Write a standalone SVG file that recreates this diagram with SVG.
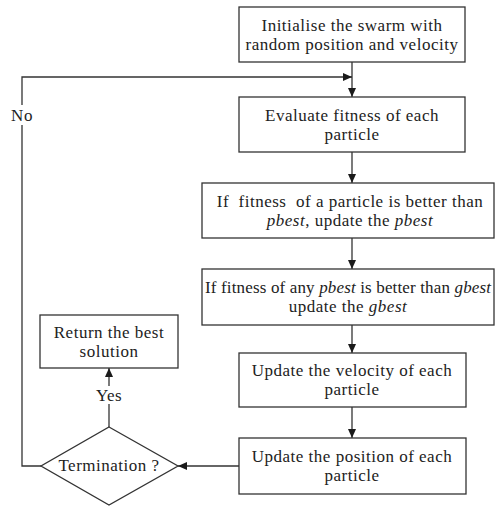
<svg xmlns="http://www.w3.org/2000/svg" width="495" height="506" viewBox="0 0 495 506">
<defs>
<marker id="ah" markerWidth="10" markerHeight="10" refX="9" refY="5" orient="auto" markerUnits="userSpaceOnUse">
<path d="M0,1 L9,5 L0,9 Z" fill="#1a1a1a"/>
</marker>
<style>
.box{fill:#fff;stroke:#333;stroke-width:1.3}
.t{font-family:"Liberation Serif","Times New Roman",serif;font-size:17px;letter-spacing:0.5px;fill:#222;text-anchor:middle}
.i{font-style:italic}
.c{fill:none;stroke:#333;stroke-width:1.3}
</style>
</defs>
<rect width="495" height="506" fill="#fff"/>
<g id="connectors">
<line class="c" x1="352" y1="62" x2="352" y2="97" marker-end="url(#ah)"/>
<polyline class="c" points="41,466 22,466 22,77 352,77" marker-end="url(#ah)"/>
<line class="c" x1="352" y1="152" x2="352" y2="183" marker-end="url(#ah)"/>
<line class="c" x1="352" y1="238" x2="352" y2="269" marker-end="url(#ah)"/>
<line class="c" x1="352" y1="325" x2="352" y2="353" marker-end="url(#ah)"/>
<line class="c" x1="352" y1="407" x2="352" y2="438" marker-end="url(#ah)"/>
<line class="c" x1="239" y1="466" x2="178" y2="466" marker-end="url(#ah)"/>
<line class="c" x1="109" y1="427" x2="109" y2="368" marker-end="url(#ah)"/>
<rect x="9" y="105" width="26" height="20" fill="#fff"/>
<text class="t" x="22" y="121">No</text>
<rect x="93" y="386" width="32" height="18" fill="#fff"/>
<text class="t" x="109" y="401">Yes</text>
</g>
<g id="init">
<rect class="box" x="239" y="7" width="226" height="55"/>
<text class="t" x="352" y="31">Initialise the swarm with</text>
<text class="t" x="352" y="50">random position and velocity</text>
</g>
<g id="evaluate">
<rect class="box" x="239" y="97" width="226" height="55"/>
<text class="t" x="352" y="121">Evaluate fitness of each</text>
<text class="t" x="352" y="140">particle</text>
</g>
<g id="pbest">
<rect class="box" x="202" y="183" width="292" height="55"/>
<text class="t" x="350" y="207" xml:space="preserve">If  fitness  of a particle is better than</text>
<text class="t" x="350" y="226"><tspan class="i">pbest</tspan>, update the <tspan class="i">pbest</tspan></text>
</g>
<g id="gbest">
<rect class="box" x="202" y="269" width="292" height="56"/>
<text class="t" x="348" y="293" style="letter-spacing:0" textLength="286" lengthAdjust="spacing">If fitness of any <tspan class="i">pbest</tspan> is better than <tspan class="i">gbest</tspan></text>
<text class="t" x="348" y="312">update the <tspan class="i">gbest</tspan></text>
</g>
<g id="velocity">
<rect class="box" x="239" y="353" width="227" height="54"/>
<text class="t" x="352" y="376">Update the velocity of each</text>
<text class="t" x="352" y="395">particle</text>
</g>
<g id="position">
<rect class="box" x="239" y="438" width="227" height="56"/>
<text class="t" x="352" y="462">Update the position of each</text>
<text class="t" x="352" y="481">particle</text>
</g>
<g id="return">
<rect class="box" x="40" y="315" width="138" height="53"/>
<text class="t" x="109" y="338">Return the best</text>
<text class="t" x="109" y="357">solution</text>
</g>
<g id="termination">
<polygon class="box" points="109,427 178,466 109,505 41,466"/>
<text class="t" x="109" y="471">Termination ?</text>
</g>
</svg>
